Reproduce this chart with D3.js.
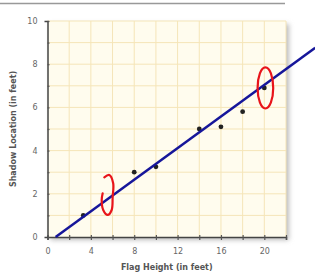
<!DOCTYPE html>
<html lang="en">
<head>
<meta charset="UTF-8">
<title>Flag Height vs Shadow Location</title>
<style>
  body { margin: 0; background: #fff; }
  svg { display: block; font-family: "DejaVu Sans", Arial, sans-serif; }
</style>
</head>
<body>
<div id="chart"></div>
<script src="https://d3js.org/d3.v7.min.js"></script>
<script>
// data
var flagHeight = [3.3, 8, 10, 14, 16, 18, 20];
var shadowLoc  = [1.0, 3.0, 3.25, 5.0, 5.1, 5.8, 6.9];
var xTicks = [0, 4, 8, 12, 16, 20];
var yTicks = [0, 2, 4, 6, 8, 10];
// fitted line: y = slope * (x - xStart)
var lineSlope = 0.366, lineStart = 0.75, lineEnd = 24.7;
// hand drawn red marks (data units)
var ring = { x: 20.1, y: 6.9, rx: 0.72, ry: 0.95 };
var hook = [[5.24, 2.76], [5.7, 2.87], [6.06, 2.49], [6.01, 1.86], [5.92, 1.25],
            [5.55, 1.02], [5.14, 1.25], [5.0, 1.71], [5.09, 2.02]];

var W = 315, H = 275;
var margin = { top: 21, right: 29, bottom: 38, left: 47.5 },
    width = W - margin.left - margin.right,
    height = H - margin.top - margin.bottom;

var svg = d3.select("#chart").append("svg")
    .attr("width", W).attr("height", H);

// rule under the (cropped) heading
svg.append("line").attr("x1", 0).attr("x2", 285).attr("y1", 3.5).attr("y2", 3.5)
    .attr("stroke", "#999").attr("stroke-width", 1.5);

var defs = svg.append("defs");
defs.append("filter").attr("id", "shade").attr("x", "-10%").attr("y", "-10%")
    .attr("width", "130%").attr("height", "130%")
  .append("feGaussianBlur").attr("stdDeviation", 2.5);

var g = svg.append("g")
    .attr("transform", "translate(" + margin.left + "," + margin.top + ")");

var x = d3.scaleLinear().domain([0, 22]).range([0, width]);
var y = d3.scaleLinear().domain([0, 10]).range([height, 0]);

// shadow + background
g.append("rect").attr("x", 3).attr("y", 3).attr("width", width).attr("height", height)
    .attr("fill", "#bbb").attr("filter", "url(#shade)");
g.append("rect").attr("width", width).attr("height", height).attr("fill", "#fffcee");

// grid
g.selectAll(".vg").data(d3.range(2, 23, 2)).enter().append("line")
    .attr("x1", d => x(d)).attr("x2", d => x(d))
    .attr("y1", 0).attr("y2", height)
    .attr("stroke", "#f5e5b8").attr("stroke-width", 1);
g.selectAll(".hg").data(d3.range(1, 11)).enter().append("line")
    .attr("x1", 0).attr("x2", width)
    .attr("y1", d => y(d)).attr("y2", d => y(d))
    .attr("stroke", "#f5e5b8").attr("stroke-width", 1);

// axes
var xAxis = g.append("g").attr("transform", "translate(0," + height + ")")
    .call(d3.axisBottom(x).tickValues(d3.range(0, 23, 2)).tickSize(3)
        .tickFormat(d => xTicks.indexOf(d) >= 0 ? d : ""));
var yAxis = g.append("g")
    .call(d3.axisLeft(y).tickValues(d3.range(0, 11)).tickSize(3)
        .tickFormat(d => yTicks.indexOf(d) >= 0 ? d : ""));

[xAxis, yAxis].forEach(function (a) {
  a.select(".domain").attr("stroke", "#444").attr("stroke-width", 1.5);
  a.selectAll(".tick line").attr("stroke", "#555").attr("stroke-width", 1.2);
  a.selectAll(".tick text").attr("fill", "#666").attr("font-size", 8)
      .attr("font-family", "DejaVu Sans, Arial, sans-serif");
});
xAxis.selectAll(".tick line").attr("y1", -2);
yAxis.selectAll(".tick line").attr("x2", 2);
xAxis.selectAll(".tick text").attr("dy", "1.4em");
yAxis.selectAll(".tick text").attr("dx", "-0.5em");

// axis titles
svg.append("text").attr("x", margin.left + x(11)).attr("y", 270)
    .attr("text-anchor", "middle").attr("font-size", 8).attr("font-weight", "bold")
    .attr("fill", "#555").text("Flag Height (in feet)");
svg.append("text")
    .attr("transform", "translate(16," + (margin.top + y(5)) + ") rotate(-90)")
    .attr("text-anchor", "middle").attr("font-size", 8).attr("font-weight", "bold")
    .attr("fill", "#555").text("Shadow Location (in feet)");

// points
g.selectAll(".pt").data(flagHeight).enter().append("circle")
    .attr("cx", d => x(d)).attr("cy", (d, i) => y(shadowLoc[i]))
    .attr("r", 2.4).attr("fill", "#222");

// fitted line (runs past the plot)
g.append("line")
    .attr("x1", x(lineStart)).attr("y1", y(0))
    .attr("x2", x(lineEnd)).attr("y2", y(lineSlope * (lineEnd - lineStart)))
    .attr("stroke", "#16169a").attr("stroke-width", 2.5);

// red marks
g.append("ellipse")
    .attr("cx", x(ring.x)).attr("cy", y(ring.y))
    .attr("rx", x(ring.rx) - x(0)).attr("ry", y(0) - y(ring.ry))
    .attr("fill", "none").attr("stroke", "#e8141a").attr("stroke-width", 2.2);
g.append("path")
    .attr("d", d3.line().x(d => x(d[0])).y(d => y(d[1])).curve(d3.curveCatmullRom)(hook))
    .attr("fill", "none").attr("stroke", "#e8141a").attr("stroke-width", 2.2)
    .attr("stroke-linecap", "round");
</script>
</body>
</html>
